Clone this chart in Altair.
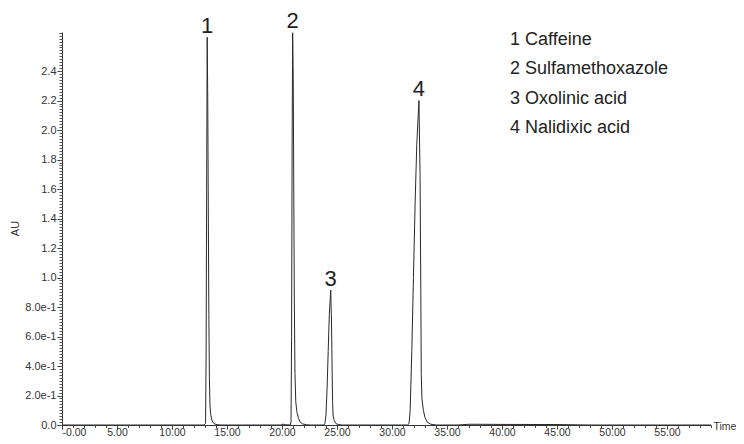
import altair as alt
import pandas as pd

# Chromatogram trace (time in min, absorbance in AU)
trace_time = [0.0, 5.0, 10.0, 12.9, 13.05, 13.1, 13.15, 13.2, 13.25, 13.3, 13.35, 13.4, 13.45, 13.5,
              13.6, 13.7, 13.85, 14.1, 14.5,
              19.9, 20.1, 20.3, 20.75, 20.82, 20.87, 20.92, 20.97, 21.02, 21.07, 21.12, 21.18, 21.25,
              21.35, 21.5, 21.65, 21.85, 22.2, 22.6,
              23.8, 23.9, 24.0, 24.1, 24.2, 24.3, 24.43, 24.5, 24.55, 24.6, 24.65, 24.75, 24.9, 25.1, 25.5,
              31.4, 31.55, 31.65, 31.8, 31.95, 32.1, 32.25, 32.45, 32.55, 32.62, 32.66, 32.72, 32.85,
              33.0, 33.2, 33.5, 34.0,
              36.0, 37.0, 40.0, 45.0, 48.0, 59.0]
trace_au = [0.0, 0.0, 0.0, 0.0, 0.01, 0.45, 1.6, 2.63, 2.2, 1.45, 0.75, 0.32, 0.14, 0.08,
            0.04, 0.02, 0.008, 0.002, 0.0,
            0.0, 0.006, 0.002, 0.0, 0.02, 0.6, 1.9, 2.66, 2.35, 1.6, 0.85, 0.35, 0.16,
            0.09, 0.045, 0.02, 0.008, 0.002, 0.0,
            0.0, 0.01, 0.07, 0.25, 0.5, 0.75, 0.915, 0.7, 0.4, 0.15, 0.06, 0.03, 0.01, 0.003, 0.0,
            0.0, 0.01, 0.1, 0.5, 1.0, 1.5, 1.9, 2.2, 1.7, 0.9, 0.35, 0.18, 0.1,
            0.05, 0.02, 0.006, 0.0,
            0.0, 0.005, 0.004, 0.003, 0.0, 0.0]

peak_labels = ["1", "2", "3", "4"]
peak_time = [13.2, 20.97, 24.43, 32.45]
peak_au = [2.63, 2.66, 0.915, 2.2]

legend_items = ["1 Caffeine", "2 Sulfamethoxazole", "3 Oxolinic acid", "4 Nalidixic acid"]

x_major = [0, 5, 10, 15, 20, 25, 30, 35, 40, 45, 50, 55]
x_minor = list(range(0, 60))
y_major = [0.0, 0.2, 0.4, 0.6, 0.8, 1.0, 1.2, 1.4, 1.6, 1.8, 2.0, 2.2, 2.4]
y_minor = [round(i * 0.02, 2) for i in range(0, 134)]

FONT = "Liberation Sans"
X_DOMAIN = [0, 59.0]
Y_DOMAIN = [0, 2.665]

trace = pd.DataFrame({"t": trace_time, "au": trace_au})
peaks = pd.DataFrame({"t": peak_time, "au": peak_au, "label": peak_labels})

xs = alt.Scale(domain=X_DOMAIN, nice=False, zero=False)
ys = alt.Scale(domain=Y_DOMAIN, nice=False, zero=False)

line = alt.Chart(trace).mark_line(color="#2a2a2a", strokeWidth=1, clip=True).encode(
    x=alt.X("t:Q", scale=xs, axis=alt.Axis(
        orient="bottom", values=x_major, tickSize=4, tickColor="#333", domainColor="#333",
        labelExpr="datum.value == 0 ? '-0.00' : format(datum.value, '.2f')",
        labelFont=FONT, labelFontSize=10.5, labelColor="#333", labelPadding=6.5,
        labelBaseline="alphabetic", grid=False,
        title="Time", titleX=651, titleY=1, titleAlign="left", titleBaseline="middle",
        titleFont=FONT, titleFontSize=10.5, titleFontWeight="normal", titleColor="#333")),
    y=alt.Y("au:Q", scale=ys, axis=alt.Axis(
        orient="left", values=y_major, tickSize=5, tickColor="#333", domainColor="#333",
        labelExpr="(datum.value > 0.01 && datum.value < 0.99) ? format(datum.value * 10, '.1f') + 'e-1' : format(datum.value, '.1f')",
        labelFont=FONT, labelFontSize=11, labelColor="#333", labelPadding=1, grid=False,
        title="AU", titleX=-47, titleY=196, titleAngle=270, titleAlign="center", titleBaseline="middle",
        titleFont=FONT, titleFontSize=11, titleFontWeight="normal", titleColor="#333")),
)

minor = alt.Chart(trace).mark_point(opacity=0).encode(
    x=alt.X("t:Q", scale=xs, axis=alt.Axis(
        orient="bottom", values=x_minor, tickSize=2.5, tickColor="#444", labels=False,
        domain=False, grid=False, title=None)),
    y=alt.Y("au:Q", scale=ys, axis=alt.Axis(
        orient="left", values=y_minor, tickSize=3, tickColor="#555", labels=False,
        domain=False, grid=False, title=None)),
)

labels = alt.Chart(peaks).mark_text(font=FONT, fontSize=22, color="#222", baseline="alphabetic", dy=-4.5).encode(
    x=alt.X("t:Q", scale=xs, axis=None), y=alt.Y("au:Q", scale=ys, axis=None), text="label:N")

legend_layers = []
for i, item in enumerate(legend_items):
    legend_layers.append(
        alt.Chart(pd.DataFrame({"txt": [item]})).mark_text(
            font=FONT, fontSize=18, color="#222", align="left", baseline="middle"
        ).encode(x=alt.value(448), y=alt.value(8 + i * 29.3), text="txt:N")
    )

chart = alt.layer(line, minor, labels, *legend_layers).resolve_axis(
    x="independent", y="independent"
).properties(
    width=649, height=393,
    autosize=alt.AutoSizeParams(type="none"),
    padding={"left": 54, "top": 24, "right": 25, "bottom": 11},
    background="white",
).configure_view(stroke=None)

chart.save("out.html", embed_options={"renderer": "svg", "actions": False})
